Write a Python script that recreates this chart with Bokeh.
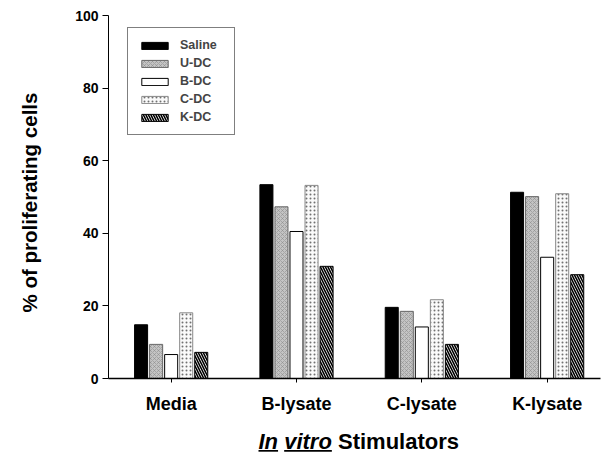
import math
from bokeh.plotting import figure
from bokeh.models import Range1d, FixedTicker, Legend, LegendItem, Label, PolyAnnotation, ColumnDataSource
from bokeh.embed import file_html
from bokeh.resources import INLINE

categories = ["Media", "B-lysate", "C-lysate", "K-lysate"]
series = ["Saline", "U-DC", "B-DC", "C-DC", "K-DC"]
saline = [14.8, 53.4, 19.6, 51.3]
u_dc = [9.4, 47.3, 18.5, 50.1]
b_dc = [6.6, 40.5, 14.2, 33.4]
c_dc = [18.1, 53.2, 21.7, 50.9]
k_dc = [7.2, 30.9, 9.4, 28.6]
values = [saline, u_dc, b_dc, c_dc, k_dc]
y_ticks = [0, 20, 40, 60, 80, 100]

FONT = "Liberation Sans"

W, H = 612, 458
AX_X, AX_TOP, AX_Y0, AX_RIGHT = 108, 15, 378, 600   # axis geometry in canvas pixels
PY = (AX_Y0 - AX_TOP) / 100.0      # pixels per y unit
PX = 125.33                        # pixels per category


def dx(px):
    return (px - AX_X) / PX


def dy(py):
    return (AX_Y0 - py) / PY


# the frame covers the whole canvas; axes are pinned at x=0 / y=0
p = figure(width=W, height=H, output_backend="svg", toolbar_location=None,
           x_range=Range1d(dx(0), dx(W)), y_range=Range1d(dy(H), dy(0)))
p.min_border_left = 0
p.min_border_right = 0
p.min_border_top = 0
p.min_border_bottom = 0
p.outline_line_color = None
p.xgrid.visible = False
p.ygrid.visible = False
p.background_fill_color = "white"
p.border_fill_color = "white"

styles = [
    dict(fill_color="black", line_color="black"),
    dict(fill_color="#c4c4c4", line_color="#666666", hatch_pattern="diagonal_cross",
         hatch_color="#858585", hatch_scale=4, hatch_weight=0.5),
    dict(fill_color="white", line_color="black"),
    dict(fill_color="#fafafa", line_color="#888888", hatch_pattern="dot",
         hatch_color="#707070", hatch_scale=4, hatch_weight=0.8),
    dict(fill_color="white", line_color="black", hatch_pattern="left_diagonal_line",
         hatch_color="black", hatch_scale=5, hatch_weight=1.6),
]
offsets = [-0.24, -0.12, 0.0, 0.12, 0.24]
items = []
for s, vals, st, off in zip(series, values, styles, offsets):
    xs = [i + 0.5 + off for i in range(len(categories))]
    src = ColumnDataSource(dict(x=xs, top=vals))
    r = p.vbar(x="x", top="top", width=0.104, bottom=0, source=src, line_width=1, **st)
    items.append(LegendItem(label=s, renderers=[r]))

legend = Legend(items=items, location=(127, H - 135))
legend.margin = 0
legend.padding = 10
legend.spacing = 4
legend.glyph_width = 33
legend.glyph_height = 9
legend.label_height = 14
legend.label_width = 44
legend.label_text_font = FONT
legend.label_text_font_style = "bold"
legend.label_text_font_size = "12.5px"
legend.label_standoff = 9
legend.border_line_color = "black"
legend.border_line_width = 1
legend.background_fill_alpha = 1
p.add_layout(legend)

# x axis
p.xaxis.fixed_location = 0
p.xaxis.bounds = (0, dx(AX_RIGHT))
p.xaxis.ticker = FixedTicker(ticks=[i + 0.5 for i in range(len(categories))])
p.xaxis.major_label_overrides = {i + 0.5: c for i, c in enumerate(categories)}
p.xaxis.minor_tick_line_color = None
p.xaxis.major_tick_in = 0
p.xaxis.major_tick_out = 4
p.xaxis.major_label_text_font = FONT
p.xaxis.major_label_text_font_style = "bold"
p.xaxis.major_label_text_font_size = "18px"
p.xaxis.major_label_text_color = "black"
p.xaxis.major_label_standoff = 11
p.xaxis.axis_line_color = "black"
p.xaxis.axis_line_width = 1.5

# y axis
p.yaxis.fixed_location = 0
p.yaxis.bounds = (0, 100)
p.yaxis.ticker = FixedTicker(ticks=y_ticks)
p.yaxis.minor_tick_line_color = None
p.yaxis.major_tick_in = 0
p.yaxis.major_tick_out = 6
p.yaxis.major_label_text_font = FONT
p.yaxis.major_label_text_font_style = "bold"
p.yaxis.major_label_text_font_size = "14px"
p.yaxis.major_label_text_color = "black"
p.yaxis.major_label_standoff = 4
p.yaxis.axis_line_color = "black"

# y-axis title
p.add_layout(Label(x=dx(29), y=dy(202), text="% of proliferating cells", angle=math.pi / 2,
                   text_align="center", text_baseline="middle", text_font=FONT,
                   text_font_style="bold", text_font_size="20.5px", text_color="black"))

# x-axis title: "In vitro Stimulators" (first two words italic and underlined)
FS = 22
title_anchor = dy(441)
x_in = dx(258)
x_vitro = x_in + 1.167 * FS / PX
x_stim = x_vitro + 2.445 * FS / PX
parts = [("In", "bold italic", x_in), ("vitro", "bold italic", x_vitro), ("Stimulators", "bold", x_stim)]
for txt, style, x in parts:
    p.add_layout(Label(x=x, y=title_anchor, text=txt, text_font=FONT, text_font_style=style,
                       text_font_size=f"{FS}px", text_color="black", text_baseline="alphabetic"))
u_top = dy(449.5)
u_bot = dy(451.2)
for x0, w in [(x_in, 0.889 * FS), (x_vitro, 2.167 * FS)]:
    x1 = x0 + w / PX
    p.add_layout(PolyAnnotation(xs=[x0, x1, x1, x0], ys=[u_top, u_top, u_bot, u_bot],
                                fill_color="black", fill_alpha=1, line_color=None))

open("out.html", "w").write(file_html(p, INLINE))
